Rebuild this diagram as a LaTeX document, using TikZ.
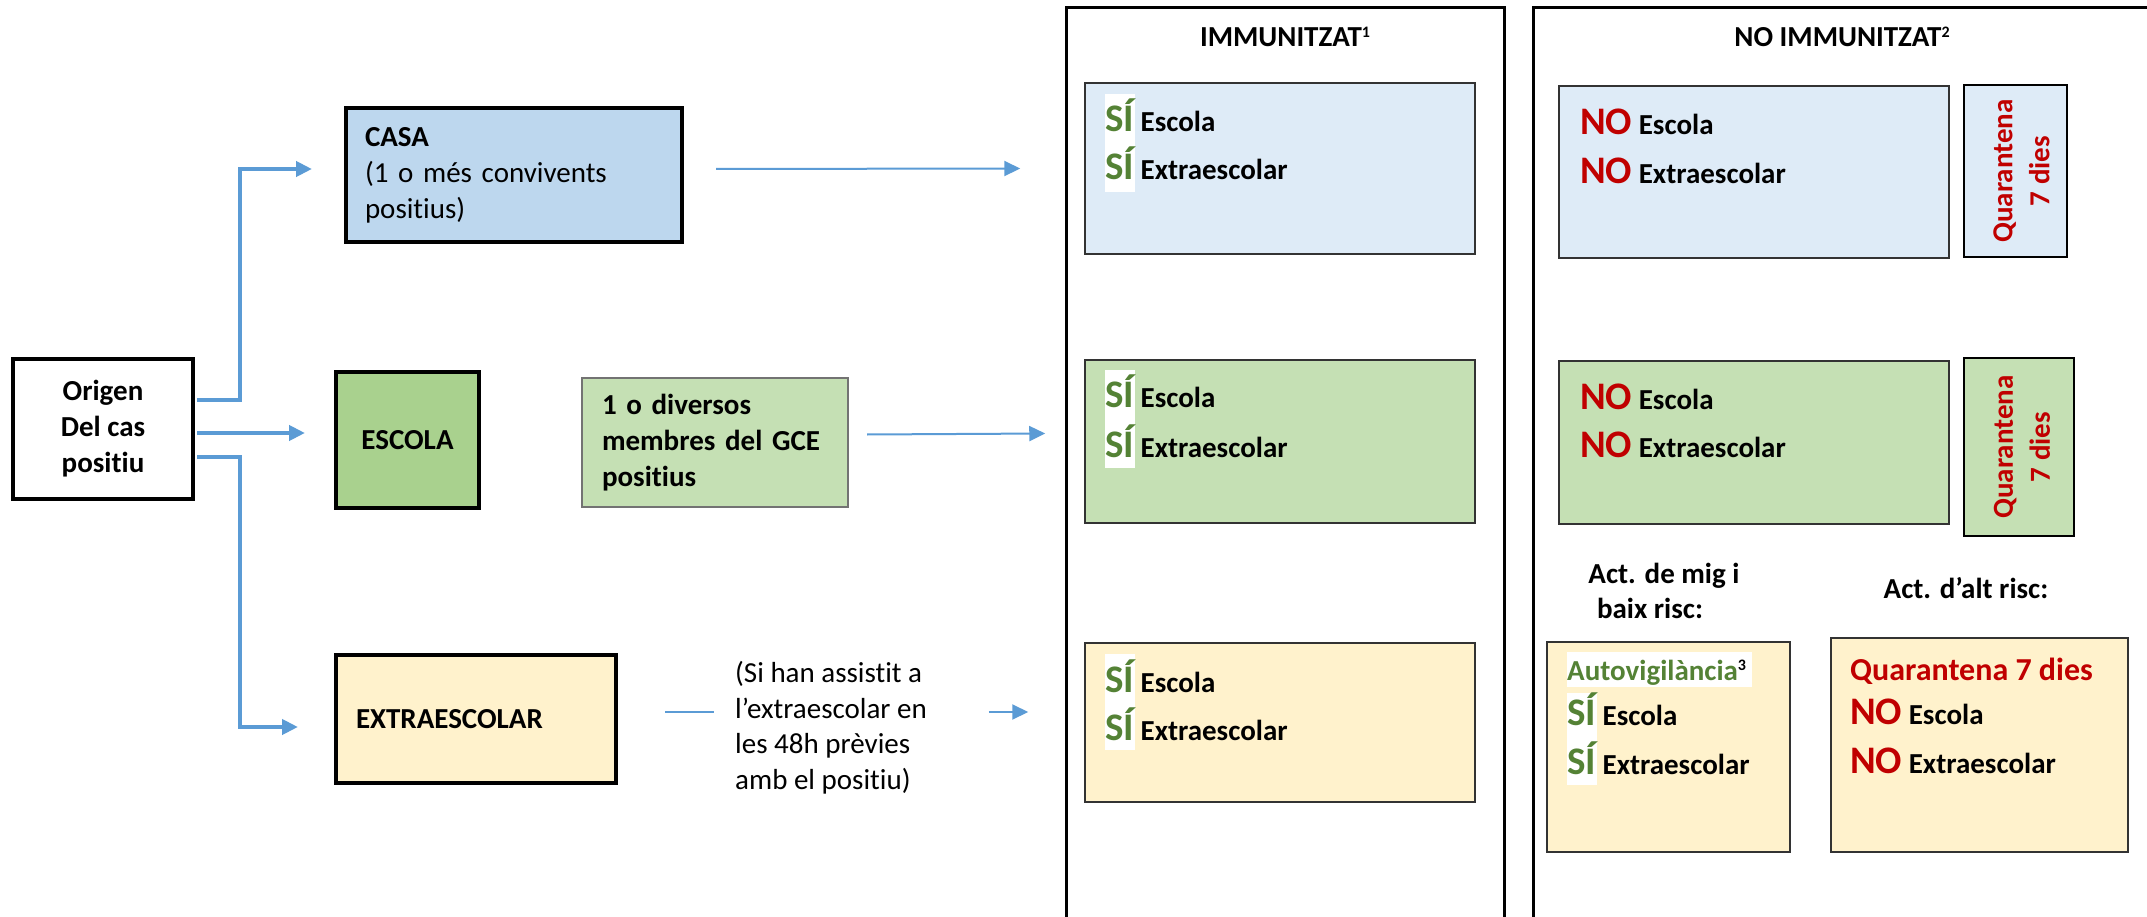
\documentclass[tikz,border=0pt]{standalone}
\usepackage{fontspec}
\setmainfont{Carlito}[Ligatures=NoCommon]
\usepackage{tikz}
\usetikzlibrary{arrows.meta}

\definecolor{casaBlue}{HTML}{BDD7EE}
\definecolor{paleBlue}{HTML}{DEEBF7}
\definecolor{escolaGreen}{HTML}{A9D18E}
\definecolor{paleGreen}{HTML}{C5E0B4}
\definecolor{paleYellow}{HTML}{FFF2CC}
\definecolor{lineBlue}{HTML}{5B9BD5}
\definecolor{siGreen}{HTML}{548235}
\definecolor{noRed}{HTML}{C00000}

\newcommand{\siBig}[1][39]{\textcolor{siGreen}{\fontsize{#1}{#1}\selectfont SÍ}}
\newcommand{\noBig}[1][39]{\textcolor{noRed}{\fontsize{#1}{#1}\selectfont NO}}
\newcommand{\supNum}[1]{\raisebox{9.5pt}{\fontsize{16}{16}\selectfont #1}}

\tikzset{
    x=1pt, y=-1pt, % one unit is one pixel of the layout, y runs downwards
    every node/.style={font=\fontsize{29}{36}\selectfont\bfseries}, % sets the text of each node
    >={Triangle[length=16pt, width=15pt]}, % makes the arrow heads bold
}

\begin{document}
\begin{tikzpicture}[
    bigBox/.style={draw=black, line width=4pt, inner sep=0pt},
    softBox/.style={draw=black!80, line width=1.5pt, inner sep=0pt},
    qBox/.style={draw=black, line width=2pt, inner sep=0pt},
    panel/.style={draw=black, line width=3pt},
    txt/.style={anchor=base west, inner sep=0pt},
    title/.style={anchor=base, inner sep=0pt},
    vtxt/.style={rotate=90, align=center, inner sep=0pt, text=noRed, font=\fontsize{29}{37}\selectfont\bfseries},
    feed/.style={->, draw=lineBlue, line width=4pt},
    link/.style={draw=lineBlue, line width=2pt},
]
\useasboundingbox (0,0) rectangle (2147,917);

% the two columns
\draw[panel] (1066,8) rectangle (1504,940);
\draw[panel] (1533,8) rectangle (2170,940);
\node[title] (imTitle) at (1285,47) {IMMUNITZAT\supNum{1}};
\node[title] (noTitle) at (1842,47) {NO IMMUNITZAT\supNum{2}};

% origin of the case
\node[bigBox, minimum width=180pt, minimum height=140pt, align=center] (origen) at (103,429) {Origen\\Del cas\\positiu};
\node[bigBox, fill=casaBlue, minimum height=134pt, text width=298pt, inner xsep=19pt, align=left] (casa) at (514,175) {CASA\\{\mdseries (1 o més convivents}\\{\mdseries positius)}};
\node[bigBox, fill=escolaGreen, minimum width=143pt, minimum height=136pt] (escola) at (407.5,440) {ESCOLA};
\node[draw=black!55, line width=2pt, fill=paleGreen, minimum height=129pt, text width=226pt, inner xsep=20pt, inner ysep=0pt, align=left] (gce) at (715,442.5) {1 o diversos\\membres del GCE\\positius};
\node[bigBox, fill=paleYellow, minimum height=128pt, text width=240pt, inner xsep=20pt, align=left] (extra) at (476,719) {EXTRAESCOLAR};
\node[anchor=west, inner sep=0pt, align=left, font=\fontsize{29}{35.5}\selectfont] (extranote) at (735,727.5) {(Si han assistit a\\l’extraescolar en\\les 48h prèvies\\amb el positiu)};

% immunitzat
\node[softBox, fill=paleBlue, minimum width=390pt, minimum height=171pt] (imb) at (1280,168.5) {};
\node[softBox, fill=paleGreen, minimum width=390pt, minimum height=163pt] (img) at (1280,441.5) {};
\node[softBox, fill=paleYellow, minimum width=390pt, minimum height=159pt] (imy) at (1280,722.5) {};
\fill[white] (1105,94) rectangle (1135,192);
\fill[white] (1105,370) rectangle (1135,468);
\fill[white] (1105,654) rectangle (1135,750);
\node[txt] (imbEsc) at (1105,132) {\siBig{} Escola};
\node[txt] (imbExt) at (1105,180) {\siBig{} Extraescolar};
\node[txt] (imgEsc) at (1105,407) {\siBig{} Escola};
\node[txt] (imgExt) at (1105,457) {\siBig{} Extraescolar};
\node[txt] (imyEsc) at (1105,692) {\siBig{} Escola};
\node[txt] (imyExt) at (1105,740) {\siBig{} Extraescolar};

% no immunitzat
\node[softBox, fill=paleBlue, minimum width=390pt, minimum height=172pt] (nob) at (1754,172) {};
\node[qBox, fill=paleBlue, minimum width=103pt, minimum height=172pt] (nobQ) at (2015.5,171) {};
\node[softBox, fill=paleGreen, minimum width=390pt, minimum height=163pt] (nog) at (1754,442.5) {};
\node[qBox, fill=paleGreen, minimum width=110pt, minimum height=178pt] (nogQ) at (2019,447) {};
\node[txt] (nobEsc) at (1580,135) {\noBig{} Escola};
\node[txt] (nobExt) at (1580,184) {\noBig{} Extraescolar};
\node[txt] (nogEsc) at (1580,409) {\noBig{} Escola};
\node[txt] (nogExt) at (1580,457) {\noBig{} Extraescolar};
\node[vtxt] (nobQtxt) at (2021.5,171) {Quarantena\\7 dies};
\node[vtxt] (nogQtxt) at (2022,447) {Quarantena\\7 dies};

% activities by risk
\node[title] (actMigA) at (1664,583) {Act. de mig i};
\node[title] (actMigB) at (1650,618) {baix risc:};
\node[title] (actAlt) at (1966,598) {Act. d’alt risc:};
\node[softBox, fill=paleYellow, minimum width=243pt, minimum height=210pt] (autoBox) at (1668.5,747) {};
\node[softBox, fill=paleYellow, minimum width=297pt, minimum height=214pt] (altBox) at (1979.5,745) {};
\fill[white] (1567,652) rectangle (1752,687);
\fill[white] (1567,693) rectangle (1597,785);
\node[txt, text=siGreen] (autoTitle) at (1567,680) {Autovigilància\textcolor{black}{\supNum{3}}};
\node[txt] (autoEsc) at (1567,725) {\siBig{} Escola};
\node[txt] (autoExt) at (1567,774) {\siBig{} Extraescolar};
\node[txt, text=noRed, font=\fontsize{32}{32}\selectfont\bfseries] (altTitle) at (1850,680) {Quarantena 7 dies};
\node[txt] (altEsc) at (1850,724) {\noBig{} Escola};
\node[txt] (altExt) at (1850,773) {\noBig{} Extraescolar};

% connectors
\draw[feed] ([xshift=2pt,yshift=29pt]origen.east) -- ++(43,0) |- ([xshift=-32pt,yshift=6pt]casa.west);
\draw[feed] ([xshift=2pt,yshift=-4pt]origen.east) -- ([xshift=-29pt,yshift=7pt]escola.west);
\draw[feed] ([xshift=2pt,yshift=-28pt]origen.east) -- ++(43,0) |- ([xshift=-36pt,yshift=-8pt]extra.west);
\draw[link, ->] ([xshift=32pt,yshift=6pt]casa.east) -- ([xshift=-64pt]imb.west);
\draw[link, ->] ([xshift=18pt,yshift=8pt]gce.east) -- ([xshift=-39pt,yshift=8pt]img.west);
\draw[link] ([xshift=47pt,yshift=7pt]extra.east) -- ([xshift=-21pt,yshift=15.5pt]extranote.west);
\draw[link, ->] ([xshift=62pt,yshift=15.5pt]extranote.east) -- ([xshift=-56pt,yshift=10.5pt]imy.west);
\end{tikzpicture}
\end{document}
